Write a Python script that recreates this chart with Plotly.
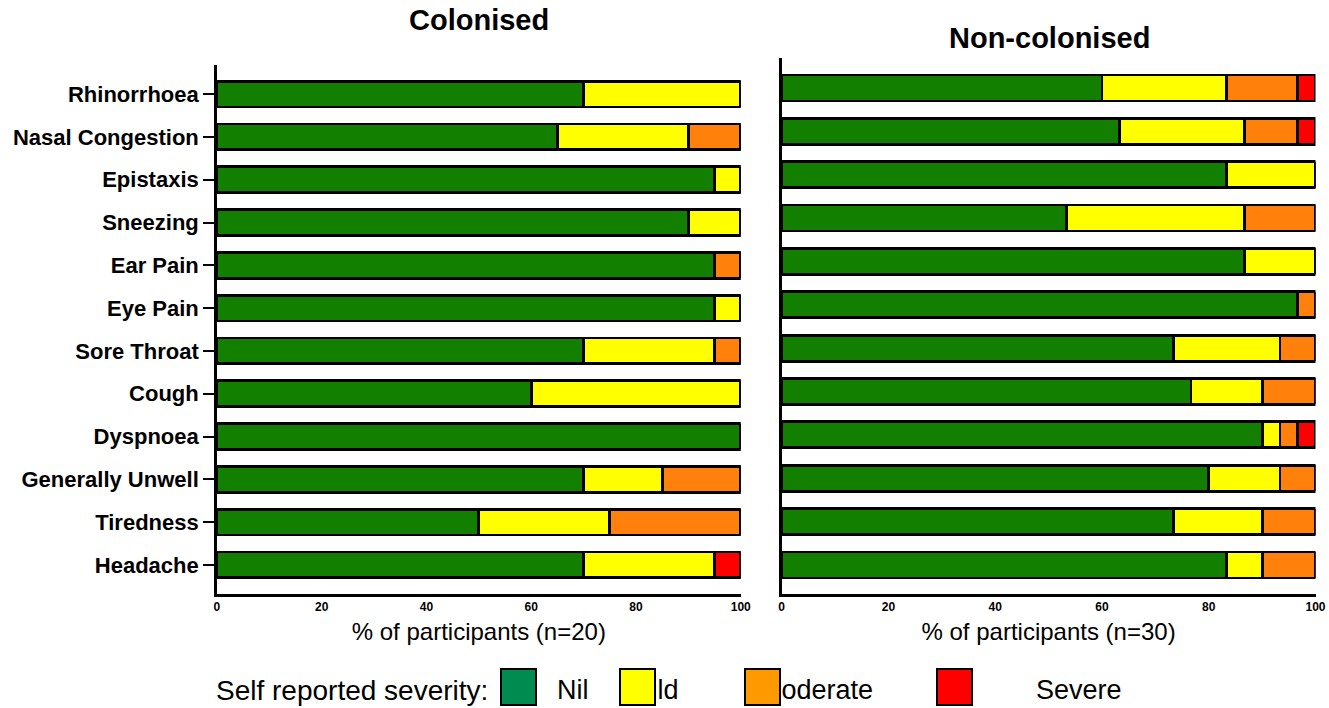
import plotly.graph_objects as go

W, H = 1329, 708

symptoms = ["Rhinorrhoea", "Nasal Congestion", "Epistaxis", "Sneezing", "Ear Pain",
            "Eye Pain", "Sore Throat", "Cough", "Dyspnoea", "Generally Unwell",
            "Tiredness", "Headache"]

levels = ["Nil", "Mild", "Moderate", "Severe"]

# Colonised group (n=20), % of participants
col_nil = [70, 65, 95, 90, 95, 95, 70, 60, 100, 70, 50, 70]
col_mild = [30, 25, 5, 10, 0, 5, 25, 40, 0, 15, 25, 25]
col_moderate = [0, 10, 0, 0, 5, 0, 5, 0, 0, 15, 25, 0]
col_severe = [0, 0, 0, 0, 0, 0, 0, 0, 0, 0, 0, 5]

# Non-colonised group (n=30), % of participants
non_nil = [60, 63.33, 83.33, 53.33, 86.67, 96.67, 73.33, 76.67, 90, 80, 73.33, 83.33]
non_mild = [23.33, 23.33, 16.67, 33.33, 13.33, 0, 20, 13.33, 3.33, 13.33, 16.67, 6.67]
non_moderate = [13.33, 10, 0, 13.33, 0, 3.33, 6.67, 10, 3.33, 6.67, 10, 10]
non_severe = [3.33, 3.33, 0, 0, 0, 0, 0, 0, 3.33, 0, 0, 0]

bar_colors = ["#127f00", "#ffff00", "#ff800a", "#ff0000"]
key_colors = ["#008c50", "#ffff00", "#ff9900", "#ff0000"]

FONT = "Arial, Liberation Sans, sans-serif"

fig = go.Figure()

groups = [
    ("x", "y", [col_nil, col_mild, col_moderate, col_severe]),
    ("x2", "y2", [non_nil, non_mild, non_moderate, non_severe]),
]
for xa, ya, series in groups:
    for name, vals, color in zip(levels, series, bar_colors):
        fig.add_trace(go.Bar(
            x=vals, y=symptoms, orientation="h", name=name,
            xaxis=xa, yaxis=ya, width=0.6, showlegend=False,
            marker=dict(color=color, line=dict(color="black", width=2.8)),
        ))

# pixel -> paper helpers (horizontal one corrects for the rendered page width)
def px_x(p):
    return (p - 1.6) / (0.9924 * W)

def px_y(p):
    return 1 - p / H

cat_order = list(reversed(symptoms))

xcommon = dict(range=[0, 100], tickmode="array", tickvals=[0, 20, 40, 60, 80, 100],
               showline=True, linecolor="black", linewidth=2.5, ticks="",
               showgrid=False, zeroline=False,
               tickfont=dict(family=FONT, size=12, color="black", weight="bold"),
               title_font=dict(family=FONT, size=24, color="black"), title_standoff=11)

fig.update_layout(
    width=W, height=H,
    margin=dict(l=0, r=0, t=0, b=0),
    paper_bgcolor="white", plot_bgcolor="white",
    barmode="stack", showlegend=False,
    font=dict(family=FONT, color="black"),
    xaxis=dict(xcommon, domain=[px_x(216), px_x(741)], anchor="y",
               title_text="% of participants (n=20)"),
    yaxis=dict(domain=[px_y(594), px_y(65)], anchor="x",
               categoryorder="array", categoryarray=cat_order,
               range=[-0.68, 11.68], showline=True, linecolor="black", linewidth=2.5,
               ticks="outside", ticklen=11, tickwidth=2, tickcolor="black",
               showgrid=False, zeroline=False,
               tickfont=dict(family=FONT, size=22, color="black", weight="bold")),
    xaxis2=dict(xcommon, domain=[px_x(782), px_x(1317)], anchor="y2",
                title_text="% of participants (n=30)"),
    yaxis2=dict(domain=[px_y(594), px_y(58)], anchor="x2",
                categoryorder="array", categoryarray=cat_order,
                range=[-0.67, 11.69], showline=True, linecolor="black", linewidth=2.5,
                ticks="", showticklabels=False, showgrid=False, zeroline=False),
)

annotations = [
    dict(text="<b>Colonised</b>", x=px_x(479), y=px_y(20), xref="paper", yref="paper",
         xanchor="center", yanchor="middle", showarrow=False,
         font=dict(family=FONT, size=29, color="black")),
    dict(text="<b>Non-colonised</b>", x=px_x(1050), y=px_y(38), xref="paper", yref="paper",
         xanchor="center", yanchor="middle", showarrow=False,
         font=dict(family=FONT, size=29, color="black")),
    dict(text="Self reported severity:", x=px_x(213), y=px_y(690), xref="paper", yref="paper",
         xanchor="left", yanchor="middle", showarrow=False,
         font=dict(family=FONT, size=28, color="black")),
]

# severity key: labels first, swatches drawn on top of them
key_text_x = [555, 627, 757, 1035]
key_box_x = [518.5, 637.5, 762.5, 955]
for name, tx in zip(levels, key_text_x):
    annotations.append(dict(text=name, x=px_x(tx), y=px_y(690), xref="paper", yref="paper",
                            xanchor="left", yanchor="middle", showarrow=False,
                            font=dict(family=FONT, size=27, color="black")))
for color, bx in zip(key_colors, key_box_x):
    annotations.append(dict(text=" ", x=px_x(bx), y=px_y(687), xref="paper", yref="paper",
                            xanchor="center", yanchor="middle", showarrow=False,
                            width=33, height=34, borderpad=0, borderwidth=2,
                            bordercolor="black", bgcolor=color,
                            font=dict(family=FONT, size=10)))

fig.update_layout(annotations=annotations)

fig.write_html("out.html")
